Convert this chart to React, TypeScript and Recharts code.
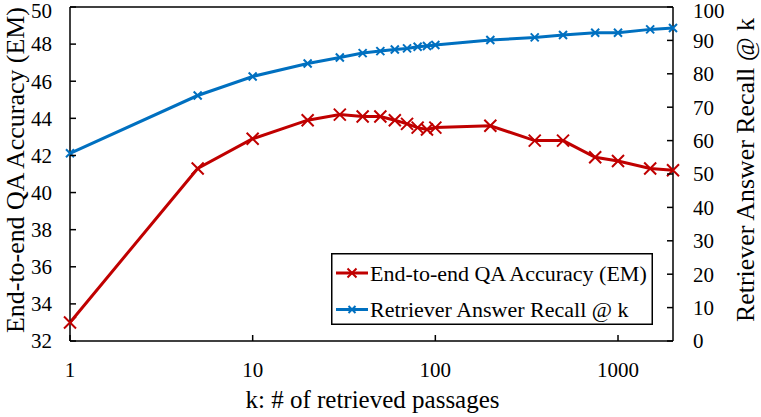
import * as React from 'react';
import { LineChart, Line, XAxis, YAxis, Legend, ReferenceLine, Label } from 'recharts';

const kValues = [1, 5, 10, 20, 30, 40, 50, 60, 70, 80, 90, 100, 200, 350, 500, 750, 1000, 1500, 2000];
const accuracyEM = [33.0, 41.3, 42.9, 43.9, 44.2, 44.1, 44.1, 43.9, 43.7, 43.5, 43.4, 43.5, 43.6, 42.8, 42.8, 41.9, 41.7, 41.3, 41.2];
const recallAtK = [56.2, 73.5, 79.2, 83.1, 84.9, 86.2, 86.8, 87.3, 87.6, 88.1, 88.3, 88.6, 90.1, 90.9, 91.6, 92.3, 92.3, 93.3, 93.7];

const xTicks = [1, 10, 100, 1000];
const leftTicks = [32, 34, 36, 38, 40, 42, 44, 46, 48, 50];
const rightTicks = [0, 10, 20, 30, 40, 50, 60, 70, 80, 90, 100];

const RED = '#C00000';
const BLUE = '#0070C0';
const FONT = "'Liberation Serif', 'DejaVu Serif', 'Times New Roman', Times, serif";
const TICK_FONT = 21;
const TITLE_FONT = 25;

const data = kValues.map((k, i) => ({ k, em: accuracyEM[i], recall: recallAtK[i] }));

const textStyle = (size: number): React.CSSProperties => ({ fontFamily: FONT, fontSize: size, fill: '#000' });

const crossPath = (cx: number, cy: number, h: number) =>
    `M${cx - h},${cy - h}L${cx + h},${cy + h}M${cx - h},${cy + h}L${cx + h},${cy - h}`;

const makeDot = (color: string, half: number) => (props: any) => {
    const { cx, cy, index } = props;
    if (cx == null || cy == null) return <g key={index} />;
    return <path key={index} d={crossPath(cx, cy, half)} stroke={color} strokeWidth={2} fill="none" />;
};

const LEFT_MARGIN = 18;
const RIGHT_MARGIN = 20;
const BOTTOM_MARGIN = 21;

// top labels sit a little lower than their tick, like in the original
const labelShift = (y: number) => (y < 20 ? 3.5 : 0);

const leftTick = (props: any) => {
    const { x, y, payload } = props;
    const ax = x + LEFT_MARGIN;
    return (
        <g>
            <line x1={ax} x2={ax + 6} y1={y} y2={y} stroke="#000" strokeWidth={1.5} />
            <text x={x} y={y + labelShift(y)} dy="0.35em" textAnchor="end" style={textStyle(TICK_FONT)}>
                {payload.value}
            </text>
        </g>
    );
};

const rightTick = (props: any) => {
    const { x, y, payload } = props;
    const ax = x - RIGHT_MARGIN;
    return (
        <g>
            <line x1={ax} x2={ax - 6} y1={y} y2={y} stroke="#000" strokeWidth={1.5} />
            <text x={x} y={y + labelShift(y)} dy="0.35em" textAnchor="start" style={textStyle(TICK_FONT)}>
                {payload.value}
            </text>
        </g>
    );
};

const bottomTick = (props: any) => {
    const { x, y, payload } = props;
    const ay = y - BOTTOM_MARGIN;
    return (
        <g>
            <line x1={x} x2={x} y1={ay} y2={ay - 6} stroke="#000" strokeWidth={1.5} />
            <text x={x} y={y} dy="0.71em" textAnchor="middle" style={textStyle(TICK_FONT)}>
                {payload.value}
            </text>
        </g>
    );
};

const sideTitle = (text: string, side: 'left' | 'right', length: number) => (props: any) => {
    const { x, y, width, height } = props.viewBox;
    const bx = side === 'left' ? x + 23.5 : x + width - 7.5;
    const by = y + height / 2 - 4;
    return (
        <text x={bx} y={by} transform={`rotate(-90, ${bx}, ${by})`} textAnchor="middle"
            textLength={length} lengthAdjust="spacingAndGlyphs" style={textStyle(26)}>
            {text}
        </text>
    );
};

const bottomTitle = (props: any) => {
    const { x, y, width } = props.viewBox;
    return (
        <text x={x + width / 2 + 1} y={y + 67} textAnchor="middle" style={textStyle(TITLE_FONT)}>
            k: # of retrieved passages
        </text>
    );
};

const renderLegend = (props: any) => {
    const items = props.payload || [];
    return (
        <svg width={322} height={72} style={{ display: 'block' }}>
            <rect x={0.75} y={0.75} width={320.5} height={70.5} fill="#fff" stroke="#000" strokeWidth={1.5} />
            {items.map((item: any, i: number) => {
                const ly = 20 + i * 36.5;
                const half = i === 0 ? 4.5 : 3.5;
                return (
                    <g key={item.value}>
                        <line x1={5} x2={37} y1={ly} y2={ly} stroke={item.color} strokeWidth={3} />
                        <path d={crossPath(21, ly, half)} stroke={item.color} strokeWidth={2} fill="none" />
                        <text x={39} y={ly + 7.5} style={textStyle(22)}>{item.value}</text>
                    </g>
                );
            })}
        </svg>
    );
};

export default function App() {
    return (
        <div style={{ position: 'absolute', left: 0, top: 0, fontFamily: FONT }}>
            <LineChart width={761} height={417} data={data} margin={{ top: 7, right: 0, bottom: 0, left: 0 }}>
                <XAxis dataKey="k" type="number" scale="log" domain={[1, 2000]} ticks={xTicks}
                    height={76} tickSize={0} tickMargin={BOTTOM_MARGIN} tickLine={false}
                    axisLine={{ stroke: '#000', strokeWidth: 1.5 }} tick={bottomTick} interval={0}>
                    <Label content={bottomTitle} />
                </XAxis>
                <YAxis yAxisId="left" orientation="left" type="number" domain={[32, 50]} ticks={leftTicks}
                    width={70} tickSize={0} tickMargin={LEFT_MARGIN} tickLine={false}
                    axisLine={{ stroke: '#000', strokeWidth: 1.5 }} tick={leftTick} interval={0}>
                    <Label content={sideTitle('End-to-end QA Accuracy (EM)', 'left', 326)} />
                </YAxis>
                <YAxis yAxisId="right" orientation="right" type="number" domain={[0, 100]} ticks={rightTicks}
                    width={88} tickSize={0} tickMargin={RIGHT_MARGIN} tickLine={false}
                    axisLine={{ stroke: '#000', strokeWidth: 1.5 }} tick={rightTick} interval={0}>
                    <Label content={sideTitle('Retriever Answer Recall @ k', 'right', 304)} />
                </YAxis>
                <ReferenceLine yAxisId="left" y={50} stroke="#000" strokeWidth={1.5} />
                <Line yAxisId="right" dataKey="recall" name="Retriever Answer Recall @ k" stroke={BLUE}
                    strokeWidth={3} dot={makeDot(BLUE, 4)} activeDot={false} isAnimationActive={false} />
                <Line yAxisId="left" dataKey="em" name="End-to-end QA Accuracy (EM)" stroke={RED}
                    strokeWidth={3} dot={makeDot(RED, 6)} activeDot={false} isAnimationActive={false} />
                <Legend layout="vertical" align="center" verticalAlign="middle" content={renderLegend}
                    itemSorter={(item: any) => (item.dataKey === 'em' ? 0 : 1)}
                    wrapperStyle={{ position: 'absolute', left: 331, top: 253, width: 322, height: 72 }} />
            </LineChart>
        </div>
    );
}
